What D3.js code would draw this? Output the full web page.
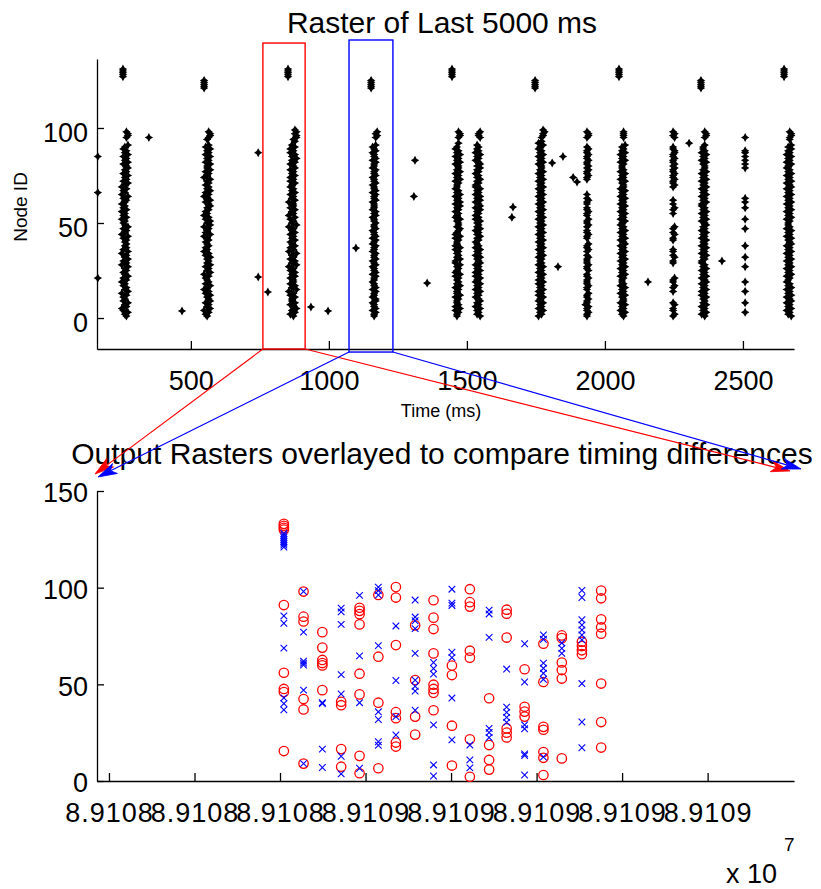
<!DOCTYPE html>
<html>
<head>
<meta charset="utf-8">
<script src="https://cdn.jsdelivr.net/npm/d3@7"></script>
<style>
  body { margin: 0; background: #fff; }
  text { font-family: "Liberation Sans", Arial, Helvetica, sans-serif; fill: #000; }
</style>
</head>
<body>
<svg id="fig" width="821" height="889"></svg>
<script>
// ---------------- raster of the last 5000 ms ----------------
// burst onset times (ms)
const burstTimes = [261, 559, 866, 1164, 1464, 1537, 1765, 1935, 2062, 2247, 2356, 2508, 2664];
// one character per node ID (0..99): '.' = silent, digit = spike offset step from the onset
const burstPatterns = [
  ".546325463 4352645342 5364354625 3645263545 4536245364 3425342534 2453624352 4635463546 5364536453 46...5665.",
  ".435264536 5463524635 4352645364 5463524354 3542634526 4635243546 5364253645 3546245364 4635463546 35..45665.",
  ".536475364 4635274635 5364635274 6354725364 3645364527 4536254635 5264536453 4635364536 5364746353 64.6577676",
  ".445354435 5344535443 4453544354 3544534453 4535443544 5443545344 4354453544 3544354453 4453544354 35...5656.",
  ".445363544 5364453645 4536345463 3645453634 4536345645 5463453546 3645364534 4536453645 5364536453 4.5..5665.",
  ".645463546 5354635463 4635364536 5463546354 3546453645 4635354636 5364635463 3546453546 4653546354 54...6556.",
  ".354635463 4635364536 3546354635 4536453645 3645364536 4536453645 3645364536 4536453645 5364536453 4635.56676",
  ".445445344 5445.44544 4544.54454 4454.45445 ..44544.45 445.44544. 4454.4.... ...4454454 5445445445 4....4554.",
  ".546354635 5463546354 4536453645 3645364536 5364536453 4635463546 3546354635 5463546354 4536453645 46...5555.",
  ".45.44.54. ....4.45.4 45.......4 4.54.44... .44.54.45. .....4.45. 4.4......4 5445445445 4544544554 4....5454.",
  ".536453645 4635364536 5364536453 3546354635 4635463546 5364536453 3645364536 4536453645 5463546354 45...5665.",
  "...4....4. ....4....4 .......4.. ..4.....4. .......4.. ..4.....4. .4.4...... .........4 .4.4.4.44. .....4....",
  ".645364536 5364536453 4536453645 3645364536 5463546354 4536453645 3645364536 5364536453 4635463546 46..55665."
];
const offsetStepMs = 5.5;
// input-node volleys, two alternating groups
const inputTimesA = [254, 852, 1446, 2051, 2649];
const inputNodesA = [127, 128, 129, 130, 131];
const inputTimesB = [548, 1153, 1747, 2348];
const inputNodesB = [121, 122, 123, 124, 125];
// isolated spikes between bursts
const strayTimes = [163, 163, 163, 348, 468, 744, 744, 779, 935, 997, 1098, 1312, 1308, 1356, 1667, 1663, 1809, 1848, 1830, 1885, 1899, 2156, 2305, 2424];
const strayNodes = [85, 66, 21, 95, 3.7, 87, 21.6, 13.7, 5.8, 3.7, 36.8, 83, 64, 18.4, 58.4, 53, 81.6, 85, 27, 74, 71.6, 19, 92, 30];
const topXDomain = [160, 2685];
const topYDomain = [-16.3, 136.3];
const topXTicks = [500, 1000, 1500, 2000, 2500];
const topYTicks = [0, 50, 100];
// highlighted windows (ms) and their vertical extent (node units)
const redWindow = [761, 914], redWindowNodes = [-16.3, 144.7];
const blueWindow = [1073, 1232], blueWindowNodes = [-17.9, 146.3];

// ---------------- overlay of the two highlighted bursts ----------------
const binTimes = [89108409, 89108455, 89108499, 89108543, 89108586, 89108630, 89108671, 89108716, 89108759,
                  89108802, 89108844, 89108889, 89108930, 89108972, 89109016, 89109059, 89109106, 89109151];
const redNodes = [
  [133, 132, 131, 130, 91, 56, 47.6, 46, 15.5],
  [98, 85, 82.5, 42.4, 37, 9],
  [77, 69, 62.6, 61, 59.8, 47],
  [41, 39.2, 16.5, 7.4],
  [89.6, 88, 86.3, 81, 55.5, 44.8, 13, 4],
  [96.2, 64.3, 40.5, 6.6],
  [100.3, 94.9, 70.3, 35.6, 32.5, 19.9, 17.8],
  [80.5, 52.2, 33.3, 24],
  [93.5, 84.5, 78.6, 66, 49.8, 47.6, 45.6, 36.6],
  [59.7, 54.8, 28.6, 8],
  [99.2, 92.5, 90.2, 67.4, 63.8, 21.6, 2.2],
  [42.8, 18.6, 10.9, 5.9],
  [88.6, 86.5, 74.2, 27.2, 25, 22.5],
  [57.8, 38.4, 35.9, 33.3],
  [71, 51.2, 28, 26.5, 15, 12, 3.1],
  [75.3, 73.9, 61.3, 57.4, 53, 11.7],
  [72, 69.8, 67.6, 65.6],
  [98.5, 94.5, 83.6, 79.5, 76.2, 50.4, 30.5, 17.3]
];
const blueNodes = [
  [128, 127, 126, 125, 124, 123, 122, 121, 85.4, 81.6, 68.7, 43, 40, 36.8],
  [98, 77, 62, 61, 60, 47, 9],
  [40.5, 40, 16.5, 7],
  [89.4, 87.5, 81, 55, 45, 12.8, 3.7],
  [96, 64.7, 40.5, 6.6],
  [100.3, 98.5, 96.2, 70, 35.8, 31.8, 20.3, 18.5],
  [80.2, 52, 33.3, 23.8],
  [93.6, 84.8, 82.9, 78.8, 66, 52.2, 49, 46.5, 36.6],
  [61.3, 58.2, 55.3, 29, 8.3, 2.6],
  [99.2, 92, 90.8, 66.6, 63.8, 42.9, 21.3],
  [18.6, 10.9, 6.8],
  [88.4, 86.4, 74.3, 27.2, 25.1, 22.5],
  [57.9, 38.2, 35.5, 32.9, 30.3],
  [71, 51.2, 29, 27, 14, 13.2, 3.1],
  [75.5, 73.3, 61, 58.3, 55.7, 52.6, 12.4],
  [71.4, 68.6, 66],
  [98.6, 94.9, 83.4, 80.7, 78.1, 75.5, 73, 50.4, 30.5, 17.2],
  []
];
const bottomXDomain = [89107972, 89109602];
const bottomYDomain = [0, 150];
const bottomXTicks = [89108000, 89108200, 89108400, 89108600, 89108800, 89109000, 89109200, 89109400];
const bottomYTicks = [0, 50, 100, 150];

// ---------------- layout ----------------
const svg = d3.select("#fig");
const topBox = { left: 97, right: 794, top: 59, bottom: 349 };
const botBox = { left: 97, right: 794, top: 491, bottom: 781 };
const tickFont = 27, titleFont = 30, labelFont = 18;

const xTop = d3.scaleLinear().domain(topXDomain).range([topBox.left, topBox.right]);
const yTop = d3.scaleLinear().domain(topYDomain).range([topBox.bottom, topBox.top]);
const xBot = d3.scaleLinear().domain(bottomXDomain).range([botBox.left, botBox.right]);
const yBot = d3.scaleLinear().domain(bottomYDomain).range([botBox.bottom, botBox.top]);

function styleAxis(g) {
  g.select(".domain").attr("stroke", "#000").attr("stroke-width", 1.3);
  g.selectAll(".tick line").attr("stroke", "#000").attr("stroke-width", 1.3);
  g.selectAll(".tick text").attr("font-size", tickFont).attr("fill", "#000")
    .attr("font-family", "'Liberation Sans', Arial, sans-serif");
}

function drawAxes(xs, ys, box, xTicks, yTicks, xFmt, xLabelY, yLabelShift, xSpacing) {
  const gx = svg.append("g").attr("transform", `translate(0,${box.bottom})`)
    .call(d3.axisBottom(xs).tickValues(xTicks).tickSizeInner(-8).tickSizeOuter(0).tickFormat(xFmt));
  styleAxis(gx);
  gx.selectAll(".tick text").attr("y", xLabelY).attr("dy", null).attr("letter-spacing", xSpacing);
  const gy = svg.append("g").attr("transform", `translate(${box.left},0)`)
    .call(d3.axisLeft(ys).tickValues(yTicks).tickSizeInner(-7).tickSizeOuter(0));
  styleAxis(gy);
  gy.selectAll(".tick text").attr("x", -9).attr("y", yLabelShift).attr("dy", "0.36em");
}

// ---------------- top raster ----------------
const starPath = "M0,-4.5L1.6,-1.6L4.2,0L1.6,1.6L0,4.5L-1.6,1.6L-4.2,0L-1.6,-1.6Z";
const rasterSpikes = [];
burstPatterns.forEach((pat, i) => {
  pat.replace(/ /g, "").split("").forEach((c, node) => {
    if (c !== ".") rasterSpikes.push({ t: burstTimes[i] + (+c - 4) * offsetStepMs, n: node });
  });
});
inputTimesA.forEach(t => inputNodesA.forEach(n => rasterSpikes.push({ t, n })));
inputTimesB.forEach(t => inputNodesB.forEach(n => rasterSpikes.push({ t, n })));
strayTimes.forEach((t, i) => rasterSpikes.push({ t, n: strayNodes[i] }));

drawAxes(xTop, yTop, topBox, topXTicks, topYTicks, d3.format("d"), 41, 4, 0);

svg.append("g").selectAll("path").data(rasterSpikes).join("path")
  .attr("d", starPath)
  .attr("transform", d => `translate(${xTop(d.t)},${yTop(d.n)})`)
  .attr("fill", "#000");

svg.append("text").attr("x", 442).attr("y", 33).attr("text-anchor", "middle")
  .attr("font-size", titleFont).text("Raster of Last 5000 ms");
svg.append("text").attr("x", 441).attr("y", 417).attr("text-anchor", "middle")
  .attr("font-size", labelFont).text("Time (ms)");
svg.append("text").attr("transform", "translate(27,207) rotate(-90)").attr("text-anchor", "middle")
  .attr("font-size", 19).text("Node ID");

// ---------------- bottom overlay ----------------
drawAxes(xBot, yBot, botBox, bottomXTicks, bottomYTicks, d => (d / 1e7).toFixed(4), 41, 1, 1);

const redSpikes = [], blueSpikes = [];
binTimes.forEach((t, i) => {
  redNodes[i].forEach(n => redSpikes.push({ t, n }));
  blueNodes[i].forEach(n => blueSpikes.push({ t, n }));
});
svg.append("g").selectAll("circle").data(redSpikes).join("circle")
  .attr("cx", d => xBot(d.t)).attr("cy", d => yBot(d.n)).attr("r", 4.7)
  .attr("fill", "none").attr("stroke", "#ff0000").attr("stroke-width", 1.3);
const xs = 3.3;
svg.append("g").selectAll("path").data(blueSpikes).join("path")
  .attr("d", `M${-xs},${-xs}L${xs},${xs}M${-xs},${xs}L${xs},${-xs}`)
  .attr("transform", d => `translate(${xBot(d.t)},${yBot(d.n)})`)
  .attr("fill", "none").attr("stroke", "#0000ff").attr("stroke-width", 1.1);

svg.append("text").attr("x", 442).attr("y", 464).attr("text-anchor", "middle")
  .attr("font-size", titleFont).text("Output Rasters overlayed to compare timing differences");

svg.append("text").attr("x", 726).attr("y", 883).attr("font-size", tickFont).text("x 10");
svg.append("text").attr("x", 784).attr("y", 851).attr("font-size", 19).text("7");

// ---------------- window boxes and zoom arrows ----------------
function windowRect(win, nodes, color) {
  svg.append("rect")
    .attr("x", xTop(win[0])).attr("y", yTop(nodes[1]))
    .attr("width", xTop(win[1]) - xTop(win[0])).attr("height", yTop(nodes[0]) - yTop(nodes[1]))
    .attr("fill", "none").attr("stroke", color).attr("stroke-width", 1.4);
}
function arrow(x0, y0, x1, y1, color) {
  const dx = x1 - x0, dy = y1 - y0, L = Math.hypot(dx, dy);
  const ux = dx / L, uy = dy / L, px = -uy, py = ux;
  const len = 19, half = 5.5, notch = 5;
  const bx = x1 - ux * len, by = y1 - uy * len;
  const nx = x1 - ux * (len - notch), ny = y1 - uy * (len - notch);
  svg.append("line").attr("x1", x0).attr("y1", y0).attr("x2", nx).attr("y2", ny)
    .attr("stroke", color).attr("stroke-width", 1.2);
  svg.append("path")
    .attr("d", `M${x1},${y1}L${bx + px * half},${by + py * half}L${nx},${ny}L${bx - px * half},${by - py * half}Z`)
    .attr("fill", color).attr("stroke", color).attr("stroke-width", 0.8);
}
windowRect(redWindow, redWindowNodes, "#ff0000");
windowRect(blueWindow, blueWindowNodes, "#0000ff");
arrow(xTop(redWindow[0]), yTop(redWindowNodes[0]), 95, 474, "#ff0000");
arrow(xTop(redWindow[1]), yTop(redWindowNodes[0]), 790, 471, "#ff0000");
arrow(xTop(blueWindow[0]), yTop(blueWindowNodes[0]), 98, 477, "#0000ff");
arrow(xTop(blueWindow[1]), yTop(blueWindowNodes[0]), 801, 469, "#0000ff");
</script>
</body>
</html>
